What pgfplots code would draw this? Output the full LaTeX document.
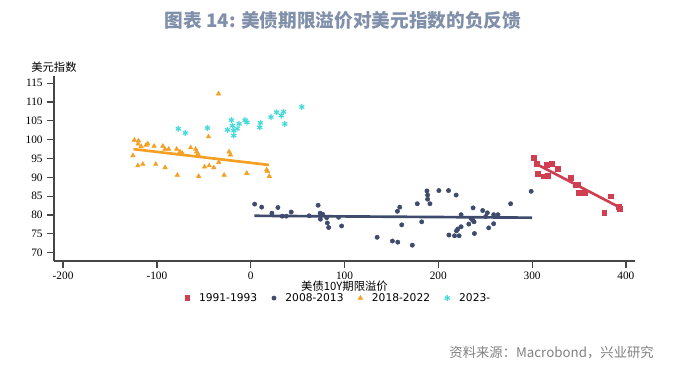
\documentclass[border=0pt]{standalone}
\usepackage{pgfplots}
\pgfplotsset{compat=1.18}
\usepackage{fontspec}
\setmainfont{Liberation Serif}
\newfontfamily\cjk{Noto Sans CJK SC}
\newfontfamily\dejavu{DejaVu Sans}
\definecolor{cRed}{RGB}{208,62,82}
\definecolor{cNavy}{RGB}{62,75,108}
\definecolor{cOrange}{RGB}{245,160,35}
\definecolor{cCyan}{RGB}{72,218,218}
\definecolor{cTitle}{RGB}{128,143,170}
\definecolor{cAxis}{RGB}{70,70,70}
\begin{document}
\begin{tikzpicture}
\useasboundingbox (0pt,0pt) rectangle (510.75pt,276pt);
\node[font=\cjk\bfseries\fontsize{14}{16}\selectfont, text=cTitle] at (257.25pt,261pt) {图表 14: 美债期限溢价对美元指数的负反馈};
\node[font=\cjk\fontsize{10}{12}\selectfont, text=black!50, anchor=east, inner sep=0pt] at (490.5pt,11.25pt) {资料来源：Macrobond，兴业研究};
\begin{axis}[
  at={(40.5pt,80.25pt)}, anchor=south west,
  scale only axis, width=435.75pt, height=139pt,
  xmin=-209.7, xmax=409.7, ymin=67.8, ymax=117,
  axis lines=left,
  axis line style={-, draw=cAxis, line width=0.9pt},
  tick style={draw=cAxis, line width=0.9pt},
  major tick length=5pt,
  tick align=outside,
  xtick={-200,-100,0,100,200,300,400},
  xticklabels={-200,-100,0,100,200,300,400},
  ytick={70,75,80,85,90,95,100,105,110,115},
  yticklabels={70,75,80,85,90,95,100,105,110,115},
  ticklabel style={font=\fontsize{8.5}{10}\selectfont},
  xlabel={美债10Y期限溢价},
  xlabel style={font=\cjk\fontsize{8.5}{10}\selectfont, at={(axis description cs:0.5,-0.137)}, anchor=center},
  ylabel={美元指数},
  ylabel style={font=\cjk\fontsize{8.5}{10}\selectfont, rotate=-90, at={(axis description cs:0.0,1.047)}, anchor=center},
  legend columns=-1,
  legend style={draw=none, fill=none, at={(axis description cs:0.488,-0.2)}, anchor=center,
    font=\dejavu\fontsize{8}{10}\selectfont,
    nodes={inner xsep=0pt},
    /tikz/every odd column/.append style={column sep=7pt},
    /tikz/every even column/.append style={column sep=11pt}},
  legend image code/.code={\draw[mark repeat=2,mark phase=2,#1] plot coordinates {(0cm,0cm) (0.15cm,0cm) (0.3cm,0cm)};},
  clip=false,
]
\addplot[only marks, mark=square*, mark size=1.8pt, color=cRed] coordinates {
(301.5,95.2) (304.7,93.6) (305.7,91.0) (311.8,90.3) (317.1,90.4) (315.6,93.4)
(320.9,93.7) (327.7,92.2) (341.1,89.8) (346.5,88.1) (349.3,88.0) (350.0,85.9)
(356.4,85.9) (376.9,80.7) (384.0,85.0) (392.0,82.3) (393.8,81.7)
};
\addlegendentry{1991-1993}
\addplot[only marks, mark=*, mark size=1.6pt, color=cNavy] coordinates {
(4.2,82.9) (11.7,82.1) (22.6,80.5) (29.0,82.0) (33.6,79.7) (37.9,79.7) (43.2,80.8)
(62.3,79.8) (71.9,82.6) (74.0,80.5) (75.4,80.0) (76.8,80.2) (74.3,78.9) (81.0,79.3)
(81.7,77.9) (83.1,76.7) (93.7,79.4) (96.9,77.1) (134.8,74.1) (151.1,73.1) (156.8,72.8)
(172.3,72.0) (156.4,81.0) (158.9,82.1) (161.0,77.4) (177.6,83.0) (182.3,78.2)
(187.9,86.4) (188.6,85.3) (188.6,84.2) (191.1,83.0) (200.6,86.5) (210.9,86.5)
(219.0,85.3) (211.3,74.7) (217.3,74.5) (222.2,74.5) (219.4,75.8) (220.8,76.3)
(224.3,76.9) (224.3,80.1) (232.5,77.6) (237.1,81.9) (234.9,79.1) (236.7,78.6)
(238.1,78.2) (238.5,75.1) (247.3,81.2) (252.3,80.6) (250.5,79.6) (253.7,76.6)
(259.0,80.1) (259.0,77.7) (263.6,80.1) (277.1,83.0) (299.0,86.3)
};
\addlegendentry{2008-2013}
\addplot[only marks, mark=triangle*, mark size=1.9pt, color=cOrange] coordinates {
(-124,99.9) (-119.6,99.7) (-120,98.9) (-116.8,98.2) (-111.5,98.6) (-109.7,98.9)
(-103,98.3) (-93.7,98.3) (-91.3,97.5) (-87.4,97.5) (-78.9,97.5) (-75.4,96.8)
(-72.9,96.4) (-64,97.9) (-58.7,97.5) (-57.6,96.8) (-56.3,96.2) (-55.2,95.7)
(-125.6,95.8) (-120.3,93.1) (-115,93.5) (-101.2,93.5) (-91.3,92.6) (-78.2,90.6)
(-55.5,90.3) (-49.2,92.8) (-44.2,93.1) (-39.3,92.6) (-34,94.0) (-28.3,90.6)
(-23,96.8) (-21.6,96.0) (-4.2,91.1) (17,92.0) (18,91.6) (19.8,90.3)
(-34.3,112.2) (-45,100.8)
};
\addlegendentry{2018-2022}
\addplot[only marks, mark=asterisk, mark size=2.2pt, line width=0.9pt, color=cCyan] coordinates {
(-77.2,102.9) (-69.7,101.8) (-46,103.1) (-24.7,102.6) (-20.5,105.2) (-19.5,103.7)
(-18.1,102.4) (-18.1,101.1) (-14.5,102.9) (-12.4,104.2) (-6,105.2) (-3.9,104.6)
(9.6,103.3) (10.3,104.5) (21.6,106.0) (27.6,107.3) (32.6,106.4) (35,107.4)
(36.4,104.2) (54.5,108.7)
};
\addlegendentry{2023-}
\addplot[forget plot, no marks, color=cRed, line width=2pt] coordinates {(303.3,93.7) (392.8,82.1)};
\addplot[forget plot, no marks, color=cNavy, line width=2pt] coordinates {(4,79.8) (300,79.3)};
\addplot[forget plot, no marks, color=cOrange, line width=2pt] coordinates {(-125,97.5) (19.4,93.3)};
\end{axis}
\end{tikzpicture}
\end{document}
